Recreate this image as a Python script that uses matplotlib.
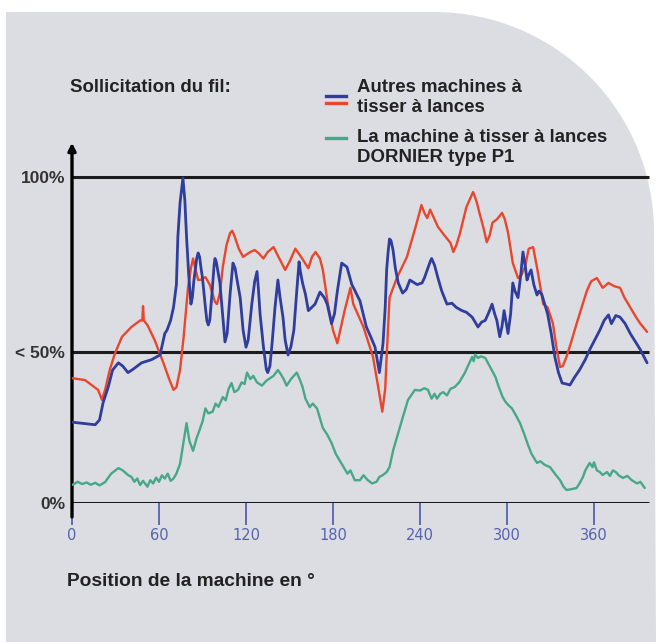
import numpy as np
import matplotlib
matplotlib.use("Agg")
import matplotlib.pyplot as plt
from matplotlib.lines import Line2D
from matplotlib.patches import PathPatch
from matplotlib.path import Path

# --- data (degree, % load) ---
red_deg = [0, 9, 18, 20.7, 23, 26, 29.7, 34.5, 41, 47, 48.5, 49, 49.5, 52, 57, 63, 67, 70, 72,
           74.5, 77, 80, 82, 83.5, 85, 87, 89, 92, 95, 98.6, 100, 102, 104, 106.5, 109, 110.5,
           112, 115, 118, 123, 126, 129, 132, 135, 139, 143, 147, 150, 154, 158, 163, 165.5, 168,
           171, 173, 176.5, 180, 183, 185.5, 188, 192, 194, 197, 201, 207.6, 211, 214, 216, 217,
           219, 224, 231, 236.5, 239, 241, 243, 245, 247, 249, 252.4, 257, 261, 263, 265,
           267.6, 272, 276.6, 279, 281, 284, 286, 288, 290, 293, 296.6, 298.5, 300.7, 304,
           307.6, 310, 312.4, 315, 318, 321, 325, 328, 331.7, 334, 336.6, 338.5, 341, 344, 348,
           355, 358, 362, 364, 366, 370, 374, 378, 381, 385, 389, 392, 396.6]
red_val = [38.3, 37.7, 34.7, 31.6, 35, 40.8, 46, 51, 54, 56, 56, 60.4, 56, 54.6, 50, 43, 38,
           34.7, 35.5, 40.8, 51, 66, 72, 75, 72, 68.4, 68.5, 69.3, 67, 61.7, 61, 64.4, 72.4, 79,
           82.8, 83.5, 82, 78, 75.5, 77, 77.6, 76.5, 75, 77, 78.5, 75, 71.5, 74, 78, 75.5, 72,
           75.5, 77, 75, 71.5, 61, 53, 49, 54, 59, 66, 61, 58, 54, 44.8, 36, 28, 35, 44.8, 63,
           69, 75.5, 84, 88, 91.4, 89, 87.4, 90, 88, 84.7, 82, 79.8, 77, 79, 82.8, 90.8, 95.4,
           92.5, 89, 84, 80, 82, 86, 87, 89, 87, 83, 73.6, 69, 70, 72.4, 78, 78.5, 71.5, 61,
           60, 55, 48, 41.7, 42, 44.8, 49, 55, 65, 68, 69, 67.5, 66, 67.5, 66.5, 66, 63, 60, 57,
           55, 52.5]

blue_deg = [0, 16, 19, 21.4, 25, 28, 32, 35, 38.6, 42, 48, 55, 60.7, 64, 65.5, 68, 70, 72, 73,
            74.5, 76.5, 77.8, 79, 80.5, 82, 83, 84, 85, 86, 87, 88, 89, 90, 92, 93, 94, 95, 96.5,
            98, 98.6, 99.5, 101, 102, 104, 105.5, 107, 109, 111, 112.5, 114, 116, 118, 120,
            121.5, 124, 126, 127.6, 128.5, 129.7, 132, 134, 135, 136.5, 138, 140, 142, 143.5,
            145.5, 147, 149, 151, 153, 155, 156.6, 157.5, 159, 161, 163, 167.6, 171, 174, 176,
            179, 181, 183, 186, 189.6, 193, 198.6, 203, 206, 209, 212, 214.5, 216, 217, 218,
            219, 220, 221.4, 223, 225, 228, 230.5, 233, 238, 241.4, 243, 245, 247, 248, 250,
            252.4, 255, 258.6, 262, 265, 269, 272, 276, 280, 282.5, 285, 287.5, 289.7, 291.5,
            293, 295, 296.5, 298, 299.5, 300.7, 302.5, 304, 305.5, 307.6, 309.5, 311, 312.5,
            313.8, 315, 316.6, 318.5, 320.7, 322, 324, 326, 328, 330.5, 333, 335.5, 338, 341,
            343.4, 346.5, 350, 354, 357, 360.5, 364, 367, 370, 372, 375, 378, 381.5, 385, 388.5,
            392, 396.6]
blue_val = [24.8, 24, 25.5, 30.7, 35.6, 40.8, 43, 42, 40, 41, 43, 44, 45.4, 52, 53, 56, 60, 67,
            81.6, 92, 99.7, 93, 81.6, 70, 61, 63, 68, 71.5, 75, 76.7, 75.5, 72, 69, 60, 56,
            54.6, 56, 64, 73, 75, 74, 70, 67.5, 57, 49.4, 52, 64, 73.6, 72, 68, 63, 53, 47.8,
            50, 61, 68, 71, 66, 58, 48, 41, 40, 42, 49, 60, 68.4, 63, 57, 50, 45.4, 48, 53, 65,
            74, 71, 67.5, 64, 59, 61, 64.7, 63, 61, 55, 58, 65, 73.6, 72.4, 67, 62, 54, 51,
            47.8, 40, 49, 60, 71.5, 77, 81, 80.5, 77.6, 72, 67.5, 64.4, 65.5, 68.4, 67, 67.5,
            69, 71.5, 74, 75, 73, 69, 65, 61, 61.3, 60, 59, 58.5, 57, 54, 55.5, 56, 58.5, 61,
            58, 56, 51, 54, 59, 55, 52, 58, 67.5, 65, 63, 70, 77, 73, 68.4, 70, 71.5, 67, 63.8,
            65, 64, 61, 58, 52, 44.8, 40, 36.8, 36.5, 36.2, 38.5, 40.8, 44, 47, 50, 53, 56,
            57.7, 55, 57.5, 57, 55, 52, 49.5, 47, 43]

green_deg = [0, 4, 7, 10, 13, 16, 19, 22.8, 27, 32, 35, 38.6, 41, 43, 45, 47, 49, 52, 54, 56,
             58, 60, 62, 64, 66, 68, 70, 72, 74.5, 77, 79, 81, 83.5, 86, 88, 90, 92, 94, 97,
             99, 101, 104, 106, 108, 110, 112, 114.5, 117, 119, 120.7, 123, 125, 127.6, 131,
             134, 136.6, 139, 142, 144, 146, 148, 151, 153, 155, 157, 159, 161, 164, 166, 169,
             171, 173, 176, 179, 182, 186, 188, 190, 192, 195, 198.6, 201, 204, 207, 210, 212,
             214.5, 217, 219, 221.4, 224, 227.6, 231.7, 236.5, 240, 243, 245.5, 248, 250,
             251.7, 254, 256, 258.6, 261, 264, 267, 271, 273, 276, 277, 278, 280, 282, 285,
             288, 292, 294, 297, 299, 301, 303.4, 306, 309, 312, 314.5, 317, 320.7, 323, 326,
             329.7, 333, 336.6, 339, 341, 344, 348, 350, 352.4, 354, 357, 359, 360, 362, 364,
             366, 369, 371, 373, 375, 377, 380, 383, 386, 389.7, 392, 395]
green_val = [5.5, 6.5, 5.8, 6.3, 5.6, 6.2, 5.4, 6.4, 9, 10.7, 10, 8.6, 8, 6.5, 7.5, 5.5, 6.8, 5,
             7, 6, 7.8, 6.5, 8.5, 7.5, 9, 6.8, 7.5, 9, 12, 19, 24.5, 19, 16, 20, 22.4, 25, 29,
             27.5, 28, 30.5, 29.5, 32.5, 31.5, 35, 36.8, 34, 34.7, 37, 36.5, 40, 38, 39, 37, 36,
             37.5, 38.3, 39, 40.8, 39.5, 38, 36, 38, 39, 40, 38, 35.6, 32, 29.4, 30.5, 29, 26,
             23, 21, 18.4, 15, 12, 10.5, 9, 10, 7, 7, 8.5, 7, 6, 6.5, 8, 8.6, 9.5, 11, 16, 20,
             25.5, 31.6, 34.7, 34.5, 35.2, 34.7, 32, 33.5, 32, 33.5, 34, 33, 35, 35.6, 37, 40,
             42, 44.8, 43.5, 45.5, 44.5, 45, 44.5, 42, 38.7, 36, 32.5, 31, 30, 29, 27, 24.5, 21,
             17.8, 15, 12.3, 12.8, 11.7, 11, 9, 7, 5, 4, 4.2, 4.6, 6, 8, 10, 12.3, 11, 12.5, 10,
             9.5, 8.6, 9.5, 8.3, 10, 9.5, 8.5, 7.7, 8.3, 7, 6, 6.5, 4.6]

ref_levels = [0, 46.3, 100]
ref_labels = ["0%", "< 50%", "100%"]
x_ticks = [0, 60, 120, 180, 240, 300, 360]

BLUE = "#2f3d9c"
RED = "#e8472c"
GREEN = "#46a886"
TICKBLUE = "#5563ad"
PANEL = "#dcdce3"
W, H = 656, 642


def fx(px):
    return px / W


def fy(py):
    return 1 - py / H


fig = plt.figure(figsize=(6.56, 6.42), dpi=100)
fig.patch.set_facecolor("white")

# grey panel with rounded top-right corner
cx, cy, r = 434, 232, 220
t = np.linspace(np.pi / 2, 0, 40)
arc = [(fx(cx + r * np.cos(a)), fy(cy - r * np.sin(a))) for a in t]
verts = [(fx(6), fy(H)), (fx(6), fy(12))] + arc + [(fx(W), fy(H)), (fx(6), fy(H))]
codes = [Path.MOVETO] + [Path.LINETO] * (len(verts) - 2) + [Path.CLOSEPOLY]
fig.add_artist(PathPatch(Path(verts, codes), facecolor=PANEL, edgecolor="none",
                         transform=fig.transFigure, zorder=0))

ytop = 112
ax = fig.add_axes([fx(72), fy(503), 580 / W, ytop * 3.26 / H])
ax.set_facecolor("none")
ax.set_xlim(0, 400)
ax.set_ylim(0, ytop)
for s in ax.spines.values():
    s.set_visible(False)

ax.hlines(ref_levels, 0, 398, color="#1c1c1c", lw=2.2, zorder=1)
ax.annotate("", xy=(0, 110.5), xytext=(0, -4.3), annotation_clip=False,
            arrowprops=dict(arrowstyle="-|>", lw=2.4, color="black", mutation_scale=11,
                            shrinkA=0, shrinkB=0))

lkw = dict(solid_joinstyle="round", solid_capstyle="round")
ax.plot(green_deg, green_val, color=GREEN, lw=1.7, zorder=3, **lkw)
ax.plot(red_deg, red_val, color=RED, lw=1.7, zorder=3, **lkw)
ax.plot(blue_deg, blue_val, color=BLUE, lw=2.0, zorder=4, **lkw)

ax.set_xticks(x_ticks)
ax.set_xticklabels([str(v) for v in x_ticks], family=["Liberation Sans Narrow", "DejaVu Sans"],
                   fontsize=10.5, color=TICKBLUE)
ax.tick_params(axis="x", direction="out", length=16, width=1.3, color=TICKBLUE, pad=2)
ax.set_yticks(ref_levels)
ax.set_yticklabels(ref_labels, family="Liberation Sans", weight="bold", fontsize=12.5,
                   color="#333333")
ax.tick_params(axis="y", length=0, pad=5)

tkw = dict(family="Liberation Sans", weight="bold", fontsize=13.4, color="#222222",
           transform=fig.transFigure, va="center", ha="left")
fig.text(fx(70), fy(87), "Sollicitation du fil:", **tkw)
fig.text(fx(357), fy(88), "Autres machines à", **tkw)
fig.text(fx(357), fy(107), "tisser à lances", **tkw)
fig.text(fx(357), fy(138), "La machine à tisser à lances", **tkw)
fig.text(fx(357), fy(157), "DORNIER type P1", **tkw)
fig.text(fx(67), fy(582), "Position de la machine en °", fontsize=13.8,
         **{k: v for k, v in tkw.items() if k != "fontsize"})

for yy, col in [(96, BLUE), (103, RED), (138, GREEN)]:
    fig.add_artist(Line2D([fx(326), fx(346)], [fy(yy), fy(yy)], color=col, lw=2.4,
                          transform=fig.transFigure))

fig.savefig("out.png", dpi=100)
